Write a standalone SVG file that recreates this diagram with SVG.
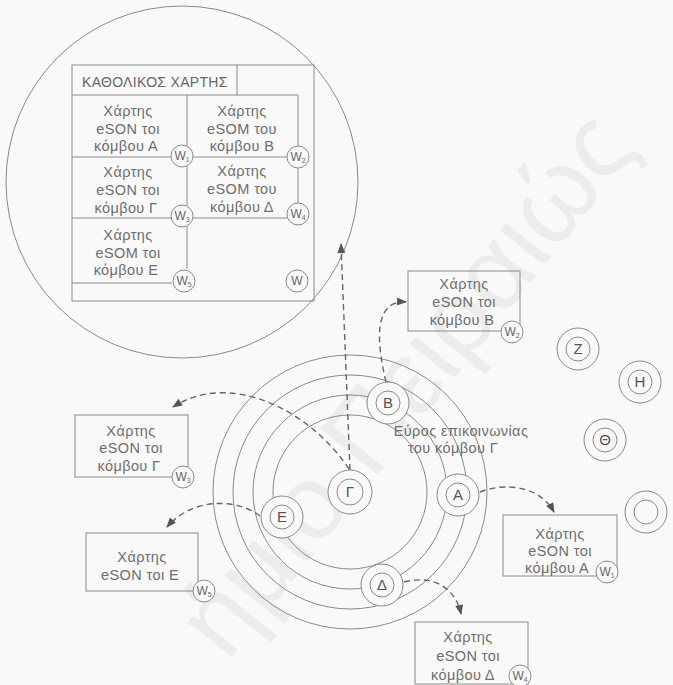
<svg xmlns="http://www.w3.org/2000/svg" width="673" height="685" viewBox="0 0 673 685">
<defs>
<marker id="ah" viewBox="0 0 10 8" refX="9" refY="4" markerWidth="11" markerHeight="8" markerUnits="userSpaceOnUse" orient="auto">
<path d="M0,0 L10,4 L0,8 Z" fill="#555"/>
</marker>
<style>
.bg{fill:#f9f9f9}
.ln{fill:none;stroke:#8a8a8a;stroke-width:1}
.bx{fill:none;stroke:#8a8a8a;stroke-width:1}
.nd{fill:#f9f9f9;stroke:#8a8a8a;stroke-width:1}
.t{font-family:"Liberation Sans",Arial,sans-serif;font-size:14.5px;fill:#6e6e6e;text-anchor:middle;letter-spacing:0.4px}
.ti{font-family:"Liberation Sans",Arial,sans-serif;font-size:14px;fill:#666;letter-spacing:0.3px}
.nl{font-family:"Liberation Sans",Arial,sans-serif;font-size:15px;fill:#555;text-anchor:middle}
.w{font-family:"Liberation Sans",Arial,sans-serif;font-size:12px;fill:#666;text-anchor:middle}
.ws{font-size:7px}
.dc{fill:none;stroke:#666;stroke-width:1.4;stroke-dasharray:6 4;marker-end:url(#ah)}
.wm{font-family:"Liberation Sans",Arial,sans-serif;font-size:106px;fill:#ececec;text-anchor:end}
</style>
</defs>
<rect class="bg" x="0" y="0" width="673" height="685"/>
<g id="watermark">
<text class="wm" transform="translate(638,148) rotate(-51.4)">ήμιο Πειραιώς</text>
</g>

<g id="global-map">
<circle class="ln" cx="182" cy="182" r="176"/>
<rect class="bx" x="72" y="65" width="242" height="236"/>
<path class="ln" d="M72,95 H298 V203 M237,65 V95 M187,95 V269 M72,157 H298 M72,218 H298 M72,283 H172"/>
<text class="ti" x="82" y="87">ΚΑΘΟΛΙΚΟΣ ΧΑΡΤΗΣ</text>
<text class="t" x="128" y="116">Χάρτης</text>
<text class="t" x="128" y="134">eSON τοι</text>
<text class="t" x="126" y="151">κόμβου Α</text>
<text class="t" x="242" y="116">Χάρτης</text>
<text class="t" x="242" y="134">eSOM του</text>
<text class="t" x="242" y="151">κόμβου Β</text>
<text class="t" x="128" y="177">Χάρτης</text>
<text class="t" x="128" y="195">eSON τοι</text>
<text class="t" x="126" y="213">κόμβου Γ</text>
<text class="t" x="242" y="176">Χάρτης</text>
<text class="t" x="242" y="194">eSOM του</text>
<text class="t" x="242" y="212">κόμβου Δ</text>
<text class="t" x="128" y="240">Χάρτης</text>
<text class="t" x="128" y="258">eSOM τοι</text>
<text class="t" x="126" y="275">κόμβου Ε</text>
<circle class="nd" cx="182" cy="156" r="11"/><text class="w" x="182" y="160">W<tspan class="ws" dy="2">1</tspan></text>
<circle class="nd" cx="298" cy="157" r="11"/><text class="w" x="298" y="161">W<tspan class="ws" dy="2">2</tspan></text>
<circle class="nd" cx="182" cy="216" r="11"/><text class="w" x="182" y="220">W<tspan class="ws" dy="2">3</tspan></text>
<circle class="nd" cx="298" cy="214" r="11"/><text class="w" x="298" y="218">W<tspan class="ws" dy="2">4</tspan></text>
<circle class="nd" cx="184" cy="281" r="11"/><text class="w" x="184" y="285">W<tspan class="ws" dy="2">5</tspan></text>
<circle class="nd" cx="297" cy="281" r="11"/><text class="w" x="297" y="285">W</text>
</g>

<g id="ranges">
<circle class="ln" cx="350" cy="492" r="77"/>
<circle class="ln" cx="350" cy="492" r="97"/>
<circle class="ln" cx="350" cy="492" r="117"/>
<circle class="ln" cx="350" cy="492" r="137"/>
<text class="t" x="461" y="436">Εύρος επικοινωνίας</text>
<text class="t" x="453" y="453">του κόμβου Γ</text>
</g>

<g id="connectors">
<path class="dc" d="M350,470 L341,244"/>
<path class="dc" d="M349,469 C310,410 230,370 173,407"/>
<path class="dc" d="M260,516 C240,500 195,495 167,527"/>
<path class="dc" d="M386,382 C376,340 374,300 406,302"/>
<path class="dc" d="M480,492 C505,482 540,486 554,512"/>
<path class="dc" d="M404,582 C430,575 455,585 461,614"/>
</g>

<g id="node-B"><circle class="nd" cx="388" cy="403" r="21"/><circle class="ln" cx="388" cy="403" r="12"/><text class="nl" x="388" y="408">Β</text></g>
<g id="node-A"><circle class="nd" cx="458" cy="495" r="21"/><circle class="ln" cx="458" cy="495" r="12"/><text class="nl" x="458" y="500">Α</text></g>
<g id="node-E"><circle class="nd" cx="282" cy="517" r="21"/><circle class="ln" cx="282" cy="517" r="12"/><text class="nl" x="282" y="522">Ε</text></g>
<g id="node-D"><circle class="nd" cx="382" cy="585" r="21"/><circle class="ln" cx="382" cy="585" r="12"/><text class="nl" x="382" y="590">Δ</text></g>
<g id="node-G"><circle class="nd" cx="350" cy="492" r="22"/><circle class="ln" cx="350" cy="492" r="13"/><text class="nl" x="350" y="497">Γ</text></g>
<g id="node-Z"><circle class="nd" cx="578" cy="349" r="21"/><circle class="ln" cx="578" cy="349" r="12"/><text class="nl" x="578" y="354">Ζ</text></g>
<g id="node-H"><circle class="nd" cx="640" cy="382" r="21"/><circle class="ln" cx="640" cy="382" r="12"/><text class="nl" x="640" y="387">Η</text></g>
<g id="node-Th"><circle class="nd" cx="605" cy="440" r="21"/><circle class="ln" cx="605" cy="440" r="12"/><text class="nl" x="605" y="445">Θ</text></g>
<g id="node-O"><circle class="nd" cx="646" cy="512" r="21"/><circle class="ln" cx="646" cy="512" r="12"/></g>

<g id="map-B">
<rect class="bx" x="408" y="271" width="112" height="60"/>
<text class="t" x="464" y="289">Χάρτης</text>
<text class="t" x="464" y="307">eSON τοι</text>
<text class="t" x="462" y="325">κόμβου Β</text>
<circle class="nd" cx="512" cy="332" r="11"/><text class="w" x="512" y="336">W<tspan class="ws" dy="2">2</tspan></text>
</g>
<g id="map-G">
<rect class="bx" x="75" y="415" width="113" height="62"/>
<text class="t" x="131" y="436">Χάρτης</text>
<text class="t" x="131" y="453">eSON τοι</text>
<text class="t" x="129" y="471">κόμβου Γ</text>
<circle class="nd" cx="183" cy="477" r="11"/><text class="w" x="183" y="481">W<tspan class="ws" dy="2">3</tspan></text>
</g>
<g id="map-E">
<rect class="bx" x="86" y="533" width="112" height="58"/>
<text class="t" x="142" y="562">Χάρτης</text>
<text class="t" x="140" y="580">eSON τοι Ε</text>
<circle class="nd" cx="204" cy="591" r="11"/><text class="w" x="204" y="595">W<tspan class="ws" dy="2">5</tspan></text>
</g>
<g id="map-A">
<rect class="bx" x="503" y="515" width="114" height="61"/>
<text class="t" x="560" y="539">Χάρτης</text>
<text class="t" x="560" y="556">eSON τοι</text>
<text class="t" x="557" y="573">κόμβου Α</text>
<circle class="nd" cx="607" cy="572" r="11"/><text class="w" x="607" y="576">W<tspan class="ws" dy="2">1</tspan></text>
</g>
<g id="map-D">
<rect class="bx" x="415" y="622" width="113" height="62"/>
<text class="t" x="468" y="642">Χάρτης</text>
<text class="t" x="468" y="661">eSON τοι</text>
<text class="t" x="463" y="680">κόμβου Δ</text>
<circle class="nd" cx="520" cy="676" r="11"/><text class="w" x="520" y="680">W<tspan class="ws" dy="2">4</tspan></text>
</g>
</svg>
